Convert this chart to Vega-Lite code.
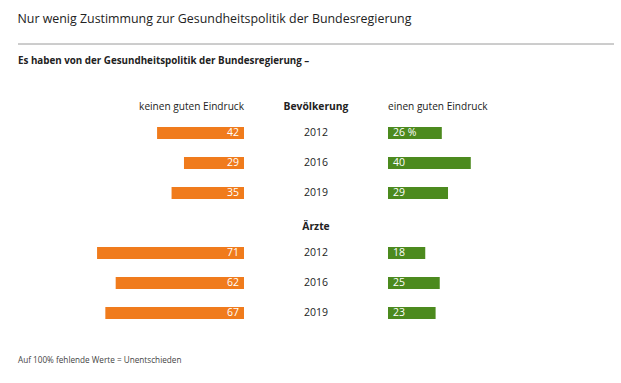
{
  "$schema": "https://vega.github.io/schema/vega-lite/v6.json",
  "background": "white",
  "padding": {"left": 17, "right": 8, "top": 12, "bottom": 0},
  "autosize": {"type": "pad"},
  "config": {
    "view": {"stroke": null},
    "font": "Open Sans",
    "concat": {"spacing": 0},
    "axis": {"domain": false, "ticks": false, "labels": false, "grid": false, "title": null}
  },
  "title": {
    "text": "Nur wenig Zustimmung zur Gesundheitspolitik der Bundesregierung",
    "anchor": "start",
    "fontSize": 12.4,
    "fontWeight": "normal",
    "color": "#222",
    "offset": 18
  },
  "datasets": {
    "werte": [
      {"zeile": "Bevölkerung 2012", "jahr": "2012", "kein": 42, "gut": 26, "gut_text": "26 %"},
      {"zeile": "Bevölkerung 2016", "jahr": "2016", "kein": 29, "gut": 40, "gut_text": "40"},
      {"zeile": "Bevölkerung 2019", "jahr": "2019", "kein": 35, "gut": 29, "gut_text": "29"},
      {"zeile": "Ärzte 2012", "jahr": "2012", "kein": 71, "gut": 18, "gut_text": "18"},
      {"zeile": "Ärzte 2016", "jahr": "2016", "kein": 62, "gut": 25, "gut_text": "25"},
      {"zeile": "Ärzte 2019", "jahr": "2019", "kein": 67, "gut": 23, "gut_text": "23"}
    ],
    "kopf": [
      {"zeile": "Bevölkerung", "text": "Bevölkerung", "links": "keinen guten Eindruck", "rechts": "einen guten Eindruck"},
      {"zeile": "Ärzte", "text": "Ärzte", "links": "", "rechts": ""}
    ]
  },
  "spacing": 11,
  "vconcat": [
    {
      "width": 596,
      "height": 1,
      "data": {"values": [{}]},
      "mark": {"type": "rule", "color": "#9a9a9a", "strokeWidth": 1},
      "encoding": {"y": {"datum": 0, "type": "quantitative", "scale": {"domain": [0, 1]}, "axis": null}}
    },
    {
      "title": {
        "text": "Es haben von der Gesundheitspolitik der Bundesregierung –",
        "anchor": "start",
        "fontSize": 9.8,
        "fontWeight": "bold",
        "color": "#222",
        "offset": 22
      },
      "hconcat": [
        {
          "width": 226,
          "height": 240,
          "title": {
            "text": "Auf 100% fehlende Werte = Unentschieden",
            "orient": "bottom",
            "anchor": "start",
            "fontSize": 8.2,
            "fontWeight": "normal",
            "color": "#444",
            "offset": 29
          },
          "layer": [
            {
              "data": {"name": "werte"},
              "mark": {"type": "bar", "color": "#F07B1C", "height": 12},
              "encoding": {
                "y": {"field": "zeile", "type": "nominal", "scale": {"domain": ["Bevölkerung", "Bevölkerung 2012", "Bevölkerung 2016", "Bevölkerung 2019", "Ärzte", "Ärzte 2012", "Ärzte 2016", "Ärzte 2019"], "paddingInner": 0, "paddingOuter": 0}, "axis": null},
                "x": {"field": "kein", "type": "quantitative", "scale": {"domain": [0, 109.2], "reverse": true, "nice": false}, "axis": null}
              }
            },
            {
              "data": {"name": "werte"},
              "mark": {"type": "text", "color": "white", "align": "right", "dx": -5, "fontSize": 10.5},
              "encoding": {
                "y": {"field": "zeile", "type": "nominal"},
                "x": {"datum": 0, "type": "quantitative"},
                "text": {"field": "kein", "type": "quantitative"}
              }
            },
            {
              "data": {"name": "kopf"},
              "mark": {"type": "text", "color": "#222", "align": "right", "dy": 3.5, "fontSize": 10.1},
              "encoding": {
                "y": {"field": "zeile", "type": "nominal"},
                "x": {"datum": 0, "type": "quantitative"},
                "text": {"field": "links"}
              }
            }
          ]
        },
        {
          "width": 144,
          "height": 240,
          "layer": [
            {
              "data": {"name": "werte"},
              "mark": {"type": "text", "color": "#222", "fontSize": 10.5},
              "encoding": {
                "y": {"field": "zeile", "type": "nominal", "scale": {"domain": ["Bevölkerung", "Bevölkerung 2012", "Bevölkerung 2016", "Bevölkerung 2019", "Ärzte", "Ärzte 2012", "Ärzte 2016", "Ärzte 2019"], "paddingInner": 0, "paddingOuter": 0}, "axis": null},
                "text": {"field": "jahr"}
              }
            },
            {
              "data": {"name": "kopf"},
              "mark": {"type": "text", "color": "#222", "fontWeight": "bold", "dy": 3.5, "fontSize": 10.3},
              "encoding": {
                "y": {"field": "zeile", "type": "nominal"},
                "text": {"field": "text"}
              }
            }
          ]
        },
        {
          "width": 226,
          "height": 240,
          "layer": [
            {
              "data": {"name": "werte"},
              "mark": {"type": "bar", "color": "#4C8A1E", "height": 12},
              "encoding": {
                "y": {"field": "zeile", "type": "nominal", "scale": {"domain": ["Bevölkerung", "Bevölkerung 2012", "Bevölkerung 2016", "Bevölkerung 2019", "Ärzte", "Ärzte 2012", "Ärzte 2016", "Ärzte 2019"], "paddingInner": 0, "paddingOuter": 0}, "axis": null},
                "x": {"field": "gut", "type": "quantitative", "scale": {"domain": [0, 109.2], "nice": false}, "axis": null}
              }
            },
            {
              "data": {"name": "werte"},
              "mark": {"type": "text", "color": "white", "align": "left", "dx": 5, "fontSize": 10.5},
              "encoding": {
                "y": {"field": "zeile", "type": "nominal"},
                "x": {"datum": 0, "type": "quantitative"},
                "text": {"field": "gut_text"}
              }
            },
            {
              "data": {"name": "kopf"},
              "mark": {"type": "text", "color": "#222", "align": "left", "dy": 3.5, "fontSize": 10.1},
              "encoding": {
                "y": {"field": "zeile", "type": "nominal"},
                "x": {"datum": 0, "type": "quantitative"},
                "text": {"field": "rechts"}
              }
            }
          ]
        }
      ]
    }
  ]
}
